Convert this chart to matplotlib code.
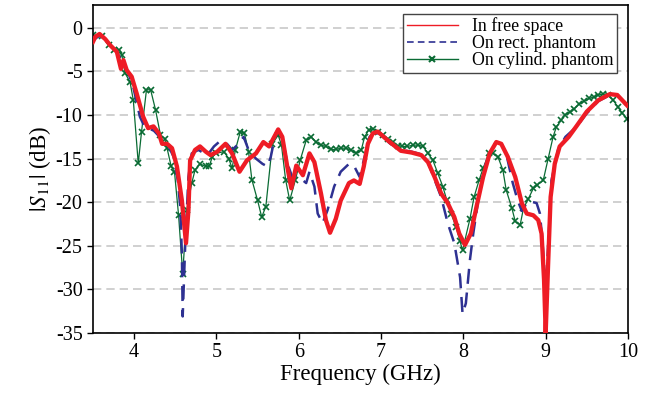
import matplotlib
matplotlib.use("Agg")
import matplotlib.pyplot as plt
from matplotlib.lines import Line2D

plt.rcParams["font.family"] = ["Liberation Serif", "DejaVu Serif"]
plt.rcParams["mathtext.fontset"] = "stix"
plt.rcParams["axes.unicode_minus"] = False

# In free space
free_f = [3.50, 3.53, 3.58, 3.65, 3.71, 3.79, 3.84, 3.87, 3.91, 3.97, 4.03, 4.11, 4.17,
          4.235, 4.30, 4.34, 4.40, 4.46, 4.52, 4.58, 4.63, 4.66, 4.68, 4.74, 4.80, 4.87,
          4.93, 5.01, 5.11, 5.19, 5.28, 5.37, 5.48, 5.57, 5.64, 5.75, 5.80, 5.86, 5.91,
          5.97, 6.05, 6.13, 6.19, 6.27, 6.33, 6.38, 6.45, 6.51, 6.61, 6.67, 6.74, 6.79,
          6.84, 6.90, 6.96, 7.08, 7.24, 7.37, 7.49, 7.57, 7.65, 7.73, 7.81, 7.89, 7.95,
          8.02, 8.09, 8.16, 8.24, 8.32, 8.40, 8.46, 8.54, 8.63, 8.71, 8.77, 8.85, 8.91,
          8.95, 8.98, 9.00, 9.03, 9.06, 9.11, 9.17, 9.28, 9.38, 9.50, 9.64, 9.78, 9.87, 9.99]
free_db = [-1.6, -1.0, -0.7, -1.3, -2.0, -2.75, -4.7, -3.7, -4.85, -5.6, -7.5, -10.2, -11.5,
           -11.3, -12.1, -13.3, -13.3, -13.8, -15.9, -19.8, -24.7, -20.9, -15.2, -14.0, -13.6, -14.2,
           -14.6, -14.2, -13.3, -14.4, -16.5, -15.2, -14.4, -13.1, -13.6, -11.65, -12.5, -15.9, -18.4,
           -15.8, -16.9, -14.4, -15.4, -19.0, -22.05, -23.5, -21.9, -19.8, -17.8, -17.5, -17.9, -15.9,
           -13.3, -12.1, -11.9, -12.9, -14.1, -14.3, -14.6, -15.4, -17.1, -19.0, -20.1, -21.7, -23.6,
           -24.9, -23.6, -20.5, -17.1, -14.4, -13.1, -13.3, -14.8, -17.1, -20.1, -21.3, -21.5, -22.05,
           -23.6, -28.9, -35.0, -27.0, -19.4, -15.6, -13.6, -12.5, -11.2, -9.6, -8.3, -7.6, -7.7, -8.9]

# On rectangular phantom
rect_f = [3.50, 3.58, 3.65, 3.71, 3.79, 3.84, 3.88, 3.93, 3.99, 4.07, 4.12, 4.17, 4.24,
          4.30, 4.36, 4.42, 4.48, 4.53, 4.56, 4.58, 4.59, 4.62, 4.66, 4.70, 4.78, 4.89,
          4.97, 5.03, 5.11, 5.19, 5.27, 5.33, 5.39, 5.48, 5.56, 5.62, 5.66, 5.71, 5.75,
          5.80, 5.86, 5.92, 6.00, 6.09, 6.13, 6.19, 6.23, 6.29, 6.35, 6.43, 6.51, 6.61,
          6.67, 6.74, 6.80, 6.86, 6.92, 7.00, 7.10, 7.24, 7.37, 7.49, 7.57, 7.65, 7.73,
          7.81, 7.89, 7.96, 7.99, 8.03, 8.08, 8.12, 8.18, 8.26, 8.35, 8.40, 8.46, 8.52,
          8.60, 8.66, 8.71, 8.77, 8.83, 8.89, 8.93, 8.96, 9.00, 9.03, 9.07, 9.15, 9.24,
          9.38, 9.50, 9.64, 9.78, 9.87, 9.99]
rect_db = [-1.4, -0.9, -1.3, -2.0, -2.8, -3.6, -4.2, -5.2, -6.8, -10.2, -11.2, -11.5, -11.8,
           -12.4, -13.2, -13.6, -14.8, -17.5, -20.5, -25.9, -33.1, -25.0, -17.1, -14.4, -14.0, -14.6,
           -13.6, -13.1, -13.1, -14.0, -13.3, -12.5, -14.0, -15.0, -15.6, -15.9, -14.8, -12.5, -11.7,
           -12.5, -15.5, -17.1, -17.1, -17.8, -16.5, -18.2, -21.3, -22.4, -20.9, -18.2, -16.5, -15.6,
           -15.8, -17.1, -14.8, -12.5, -12.0, -12.2, -13.2, -14.0, -14.2, -14.5, -15.4, -17.4, -19.4,
           -22.4, -24.7, -28.6, -32.8, -31.6, -26.6, -23.6, -19.8, -15.9, -13.6, -13.1, -13.3, -14.4,
           -17.8, -19.8, -21.0, -20.1, -19.95, -20.1, -21.3, -24.4, -29.7, -25.0, -17.5, -14.0, -12.5,
           -11.3, -9.8, -8.4, -7.7, -7.7, -9.0]

# On cylindrical phantom
cyl_f = [3.50, 3.61, 3.69, 3.76, 3.82, 3.85, 3.89, 3.95, 3.99, 4.05, 4.09, 4.15, 4.20,
         4.26, 4.32, 4.37, 4.40, 4.45, 4.49, 4.54, 4.59, 4.64, 4.70, 4.74, 4.80, 4.87,
         4.91, 4.95, 4.99, 5.09, 5.15, 5.19, 5.23, 5.29, 5.34, 5.39, 5.43, 5.50, 5.55,
         5.60, 5.68, 5.75, 5.79, 5.84, 5.89, 5.96, 6.02, 6.09, 6.15, 6.21, 6.27, 6.33,
         6.39, 6.45, 6.51, 6.57, 6.63, 6.70, 6.76, 6.80, 6.85, 6.90, 6.96, 7.02, 7.08,
         7.14, 7.20, 7.26, 7.32, 7.39, 7.45, 7.51, 7.57, 7.63, 7.69, 7.75, 7.80, 7.85,
         7.91, 7.96, 7.99, 8.08, 8.13, 8.19, 8.24, 8.31, 8.36, 8.42, 8.48, 8.52, 8.59,
         8.63, 8.69, 8.73, 8.79, 8.85, 8.90, 8.97, 9.03, 9.09, 9.13, 9.19, 9.23, 9.30,
         9.35, 9.41, 9.47, 9.53, 9.59, 9.64, 9.70, 9.76, 9.82, 9.88, 9.93, 9.99]
cyl_db = [-0.84, -0.95, -2.0, -2.56, -2.5, -3.1, -5.2, -6.2, -8.3, -15.55, -11.9, -7.1, -7.1,
          -9.4, -12.3, -12.7, -13.8, -15.9, -16.5, -21.5, -28.2, -20.9, -17.8, -16.3, -15.6, -15.9,
          -15.9, -14.8, -14.4, -14.2, -15.0, -16.1, -14.0, -11.9, -12.1, -14.2, -17.4, -19.8, -21.7,
          -20.5, -13.3, -12.3, -13.45, -17.4, -19.8, -17.4, -15.1, -12.9, -12.5, -13.1, -13.45, -13.6,
          -13.95, -13.95, -13.8, -13.8, -14.0, -14.4, -14.0, -12.5, -11.7, -11.6, -11.9, -12.3, -12.8,
          -13.1, -13.5, -13.6, -13.6, -13.45, -13.45, -13.6, -14.4, -15.2, -16.7, -18.2, -19.8, -21.3,
          -22.8, -24.5, -25.5, -21.9, -19.4, -17.5, -16.1, -14.4, -14.4, -14.8, -16.3, -18.6, -20.7,
          -22.2, -22.6, -20.7, -19.6, -18.4, -18.0, -17.5, -15.0, -12.5, -11.35, -10.6, -10.0, -9.6,
          -9.25, -8.7, -8.4, -8.1, -7.9, -7.7, -7.6, -7.7, -8.3, -9.1, -9.8, -10.4]

labels = ["In free space", "On rect. phantom", "On cylind. phantom"]
x_ticks = [4, 5, 6, 7, 8, 9, 10]
y_ticks = [0, -5, -10, -15, -20, -25, -30, -35]

red, blue, green = "#ee1c25", "#2e3192", "#0a6b34"

fig = plt.figure(figsize=(6.53, 4.0), dpi=100)
ax = fig.add_axes([0.1424, 0.1675, 0.8193, 0.8195])

ax.plot(cyl_f, cyl_db, color=green, lw=0.9, marker="x", ms=5, mew=1.2, zorder=2)
ax.plot(rect_f, rect_db, color=blue, lw=1.8, dashes=(6, 3.5), zorder=3)
ax.plot(free_f, free_db, color=red, lw=3.1, solid_joinstyle="round", zorder=4)

ax.set_xlim(3.5, 10)
ax.set_ylim(-35, 2.6)
ax.set_xticks(x_ticks)
ax.set_yticks(y_ticks)
ax.tick_params(labelsize=14.5, direction="out", length=4, width=1)
ax.yaxis.grid(True, color="#c8c8c8", ls=(0, (5, 3)), lw=1.2)
ax.set_axisbelow(True)
for s in ax.spines.values():
    s.set_linewidth(1.2)

ax.set_xlabel("Frequency (GHz)", fontsize=16.5, labelpad=1)
ax.set_ylabel(r"$|S_{11}|$ (dB)", fontsize=16.5, labelpad=2)

# legend uses thin sample lines
handles = [
    Line2D([], [], color=red, lw=1.0),
    Line2D([], [], color=blue, lw=1.2, dashes=(4, 2.5)),
    Line2D([], [], color=green, lw=1.0, marker="x", ms=4, mew=1.5),
]
leg = ax.legend(handles, labels, loc="upper right", bbox_to_anchor=(0.979, 0.973),
                fontsize=12.8, frameon=True, fancybox=False, edgecolor="#444444",
                framealpha=1, borderpad=0.2, labelspacing=0.0, handlelength=2.9,
                handletextpad=0.75, borderaxespad=0, numpoints=1)
leg.get_frame().set_linewidth(1.0)

fig.savefig("out.png", dpi=100)
